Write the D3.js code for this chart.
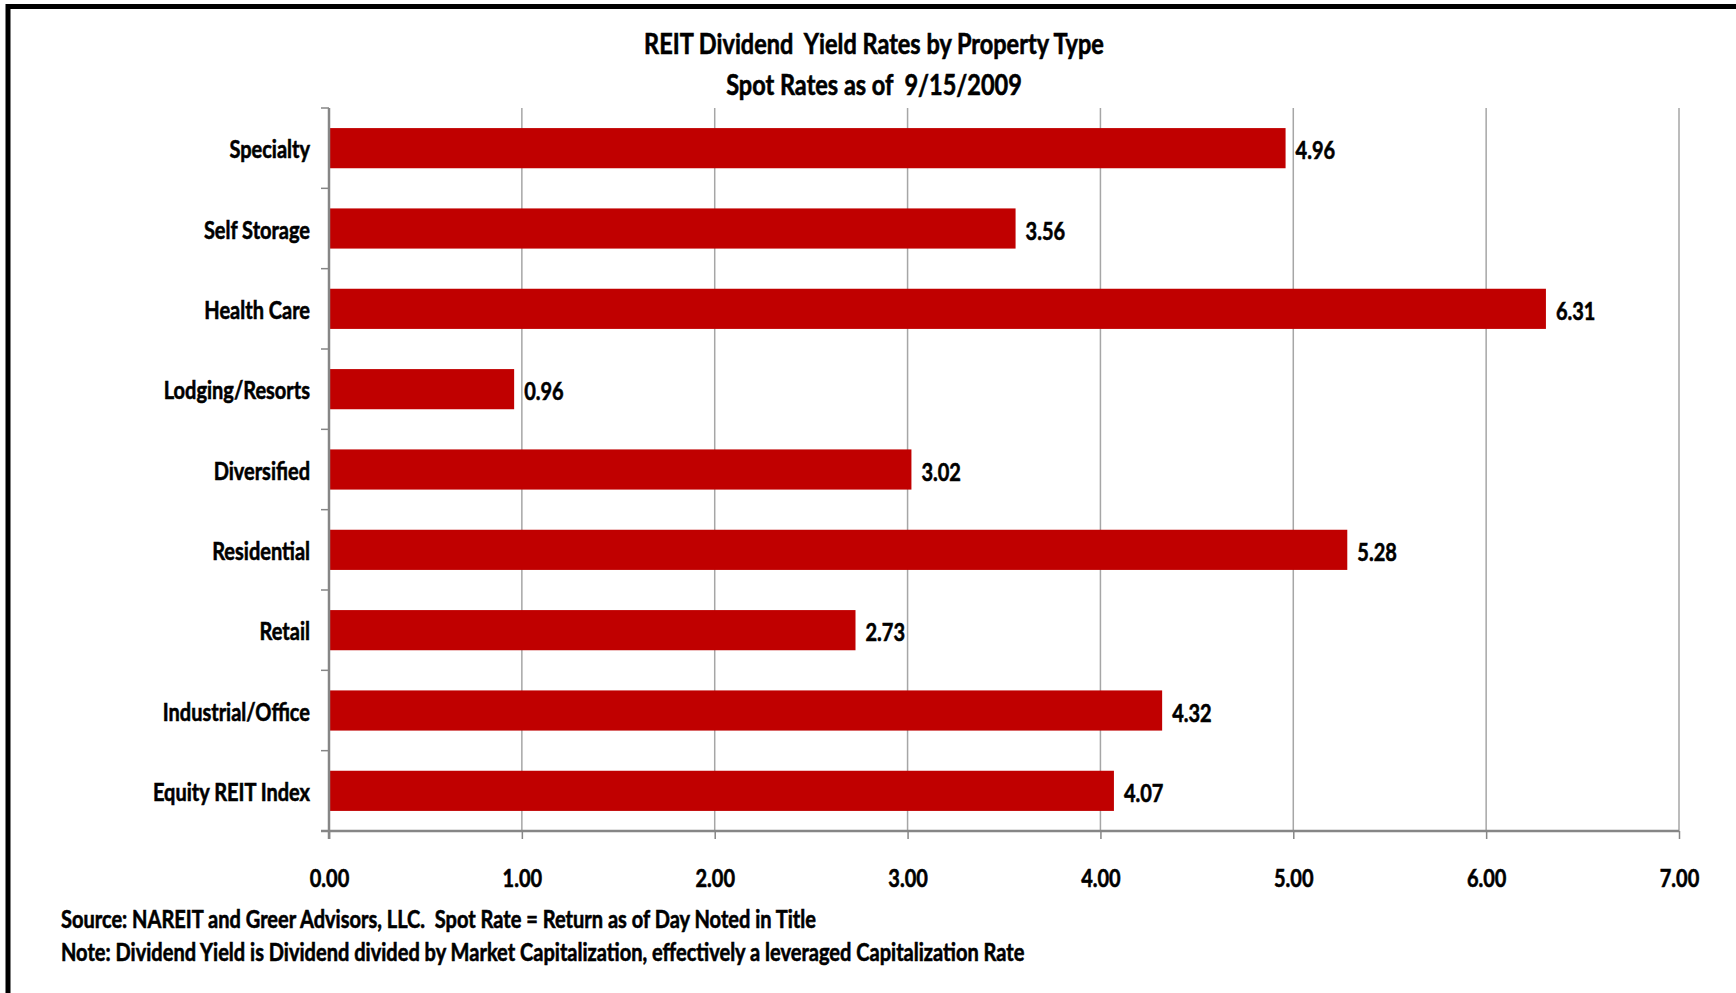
<!DOCTYPE html>
<html>
<head>
<meta charset="utf-8">
<script src="https://cdn.jsdelivr.net/npm/d3@7"></script>
<style>
  html, body { margin: 0; padding: 0; background: #fff; }
  svg { display: block; }
  text { font-family: Lato, "Open Sans", sans-serif; font-weight: bold; fill: #000; stroke: #000; stroke-width: 0.6px; white-space: pre; }
</style>
</head>
<body>
<svg id="chart" width="1736" height="993"></svg>
<script>
const categories = ["Specialty", "Self Storage", "Health Care", "Lodging/Resorts", "Diversified", "Residential", "Retail", "Industrial/Office", "Equity REIT Index"];
const yields = [4.96, 3.56, 6.31, 0.96, 3.02, 5.28, 2.73, 4.32, 4.07];
const xTicks = [0, 1, 2, 3, 4, 5, 6, 7];
const titleLines = ["REIT Dividend  Yield Rates by Property Type", "Spot Rates as of  9/15/2009"];
const footerLines = [
  "Source: NAREIT and Greer Advisors, LLC.  Spot Rate = Return as of Day Noted in Title",
  "Note: Dividend Yield is Dividend divided by Market Capitalization, effectively a leveraged Capitalization Rate"
];

const svg = d3.select("#chart");
const W = 1736, H = 993;
const plot = { left: 329, right: 1679, top: 108, bottom: 831 };

// condensed text helper: place at (x,y) and squeeze horizontally
function squeeze(sel, sx, fx, fy) {
  sel.attr("x", 0).attr("y", 0)
     .attr("transform", (d, i) => `translate(${fx(d, i)},${fy(d, i)}) scale(${sx},1)`);
}

// outer frame
svg.append("rect")
  .attr("x", 8).attr("y", 6.5)
  .attr("width", W + 20).attr("height", H + 20)
  .attr("fill", "none").attr("stroke", "#000").attr("stroke-width", 5);

const x = d3.scaleLinear().domain([0, 7]).range([plot.left, plot.right]);
const y = d3.scaleBand().domain(categories).range([plot.top, plot.bottom]).paddingInner(0.5).paddingOuter(0.25);

// gridlines
svg.append("g")
  .selectAll("line").data(xTicks.slice(1)).join("line")
  .attr("x1", d => x(d)).attr("x2", d => x(d))
  .attr("y1", plot.top).attr("y2", plot.bottom)
  .attr("stroke", "#A6A6A6").attr("stroke-width", 1.5);

// bars
svg.append("g")
  .selectAll("rect").data(categories).join("rect")
  .attr("x", x(0) + 1)
  .attr("y", d => y(d))
  .attr("width", (d, i) => x(yields[i]) - x(0) - 1)
  .attr("height", y.bandwidth())
  .attr("fill", "#C00000");

// x axis
const xAxis = d3.axisBottom(x).tickValues(xTicks).tickFormat(d3.format(".2f")).tickSize(8).tickPadding(0);
const gx = svg.append("g").attr("transform", `translate(0,${plot.bottom})`).call(xAxis);
gx.select(".domain").attr("stroke", "#868686").attr("stroke-width", 2.5)
  .attr("d", `M${plot.left - 8},0H${plot.right}`);
gx.selectAll(".tick line").attr("stroke", "#868686").attr("stroke-width", 1.5);
gx.selectAll(".tick text")
  .attr("dy", null)
  .attr("fill", "#000")
  .style("font-family", 'Lato, "Open Sans", sans-serif')
  .style("font-weight", "bold")
  .attr("font-size", 25)
  .attr("y", 0)
  .attr("transform", "translate(0,56) scale(0.8,1)");

// y axis line + ticks at category boundaries
const boundaries = d3.range(categories.length + 1).map(i => plot.top + i * (plot.bottom - plot.top) / categories.length);
svg.append("line")
  .attr("x1", plot.left).attr("x2", plot.left)
  .attr("y1", plot.top).attr("y2", plot.bottom + 8)
  .attr("stroke", "#868686").attr("stroke-width", 2.5);
svg.append("g").selectAll("line").data(boundaries).join("line")
  .attr("x1", plot.left - 8).attr("x2", plot.left)
  .attr("y1", d => d).attr("y2", d => d)
  .attr("stroke", "#868686").attr("stroke-width", 1.5);

// category labels
svg.append("g").selectAll("text").data(categories).join("text")
  .attr("text-anchor", "end")
  .attr("font-size", 25)
  .text(d => d)
  .call(squeeze, 0.8, () => plot.left - 19, d => y(d) + y.bandwidth() / 2 + 10);

// value labels
svg.append("g").selectAll("text").data(categories).join("text")
  .attr("font-size", 25)
  .text((d, i) => d3.format(".2f")(yields[i]))
  .call(squeeze, 0.8, (d, i) => x(yields[i]) + 10, d => y(d) + y.bandwidth() / 2 + 11);

// title
svg.append("g").selectAll("text").data(titleLines).join("text")
  .attr("text-anchor", "middle")
  .attr("font-size", 28)
  .text(d => d)
  .call(squeeze, 0.84, () => 874, (d, i) => 54 + i * 41);

// footer
svg.append("g").selectAll("text").data(footerLines).join("text")
  .attr("font-size", 24)
  .text(d => d)
  .call(squeeze, 0.835, () => 61, (d, i) => 928 + i * 33);
</script>
</body>
</html>
